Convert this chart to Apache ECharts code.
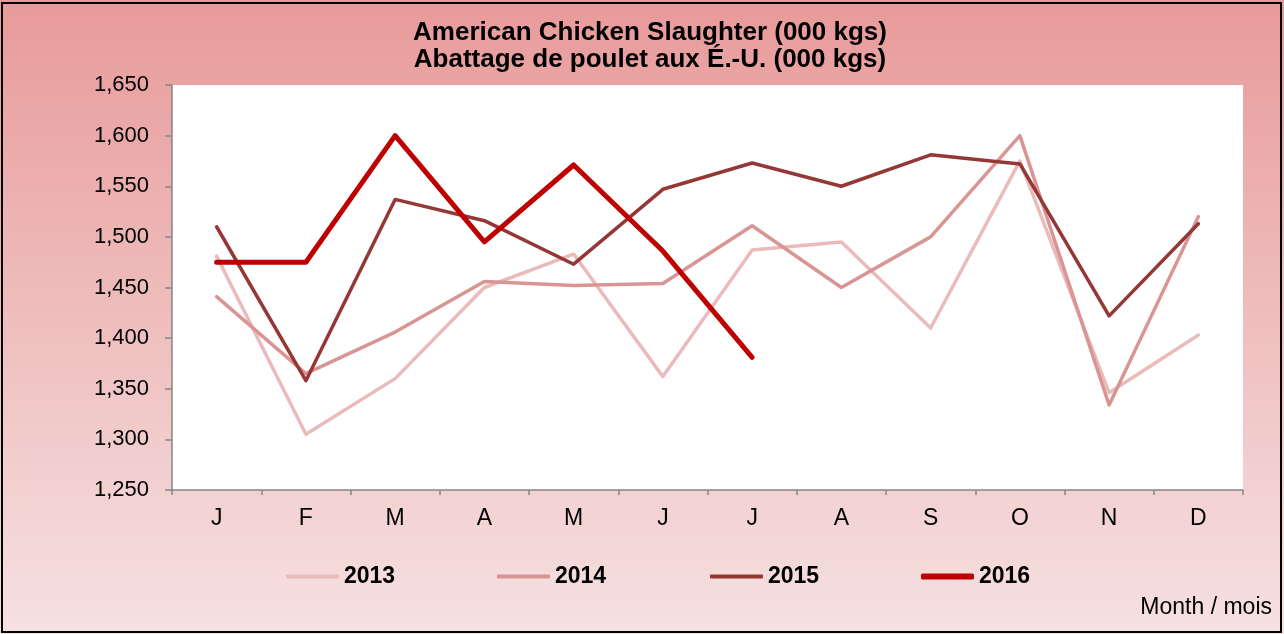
<!DOCTYPE html>
<html>
<head>
<meta charset="utf-8">
<script src="https://cdn.jsdelivr.net/npm/echarts@6/dist/echarts.min.js"></script>
<style>
  html, body { margin: 0; padding: 0; }
  #chart { width: 1284px; height: 634px; }
</style>
</head>
<body>
<div id="chart"></div>
<script>
// months
var months = ['J', 'F', 'M', 'A', 'M', 'J', 'J', 'A', 'S', 'O', 'N', 'D'];
// slaughter, 000 kgs
var y2013 = [1481, 1305, 1360, 1450, 1483, 1362, 1487, 1495, 1410, 1575, 1346, 1403];
var y2014 = [1441, 1365, 1406, 1456, 1452, 1454, 1511, 1450, 1500, 1600, 1334, 1520];
var y2015 = [1510, 1358, 1537, 1516, 1473, 1547, 1573, 1550, 1581, 1572, 1422, 1513];
var y2016 = [1475, 1475, 1600, 1495, 1571, 1486, 1381];

var FONT = 'Liberation Sans, Arial, sans-serif';
var chart = echarts.init(document.getElementById('chart'));

function makeSeries(name, data, color, width) {
  return {
    name: name,
    type: 'line',
    data: data,
    symbol: 'none',
    animation: false,
    lineStyle: { color: color, width: width, cap: 'round', join: 'round' },
    itemStyle: { color: color }
  };
}

// one legend per year so each swatch can have its own thickness
function makeLegend(name, left, thick) {
  return {
    left: left,
    top: 565,
    padding: 0,
    icon: 'roundRect',
    itemWidth: 53,
    itemHeight: thick,
    textStyle: { fontSize: 23, fontWeight: 'bold', color: '#000', fontFamily: FONT },
    data: [name]
  };
}

var option = {
  backgroundColor: {
    type: 'linear', x: 0, y: 0, x2: 0, y2: 1,
    colorStops: [
      { offset: 0, color: '#e89a9a' },
      { offset: 1, color: '#f6e1e1' }
    ]
  },
  textStyle: { fontFamily: FONT },
  title: {
    text: 'American Chicken Slaughter (000 kgs)\nAbattage de poulet aux É.-U. (000 kgs)',
    left: 645,
    textAlign: 'center',
    top: 14,
    textStyle: { fontSize: 26, fontWeight: 'bold', color: '#000', lineHeight: 27, fontFamily: FONT }
  },
  legend: [
    makeLegend('2013', 286, 4),
    makeLegend('2014', 497, 4),
    makeLegend('2015', 710, 4),
    makeLegend('2016', 921, 6)
  ],
  grid: { left: 172, top: 85, right: 41, bottom: 144 },
  xAxis: {
    type: 'category',
    data: months,
    boundaryGap: true,
    axisLine: { lineStyle: { color: '#868686', width: 1.5 } },
    axisTick: { show: true, length: 5, lineStyle: { color: '#868686', width: 1.5 } },
    axisLabel: { color: '#000', fontSize: 23, margin: 17 },
    splitLine: { show: false }
  },
  yAxis: {
    type: 'value',
    min: 1250,
    max: 1650,
    interval: 50,
    axisLine: { show: true, lineStyle: { color: '#868686', width: 1.5 } },
    axisTick: { show: true, length: 7, lineStyle: { color: '#868686', width: 1.5 } },
    axisLabel: {
      color: '#000', fontSize: 22, margin: 23,
      formatter: function (v) { return v.toLocaleString('en-US'); }
    },
    splitLine: { show: false }
  },
  graphic: [
    {
      type: 'rect',
      shape: { x: 172, y: 85, width: 1071, height: 405 },
      style: { fill: '#fff' },
      z: -10,
      silent: true
    },
    {
      type: 'rect',
      shape: { x: 2, y: 3, width: 1279, height: 629 },
      style: { fill: 'none', stroke: '#000', lineWidth: 2 },
      silent: true
    },
    {
      type: 'text',
      right: 12,
      top: 596,
      style: { text: 'Month / mois', fontSize: 23, fill: '#000', fontFamily: FONT }
    }
  ],
  series: [
    makeSeries('2013', y2013, '#ebbaba', 3.5),
    makeSeries('2014', y2014, '#d99594', 3.5),
    makeSeries('2015', y2015, '#953735', 3.5),
    makeSeries('2016', y2016, '#c00000', 5)
  ]
};

chart.setOption(option);
</script>
</body>
</html>
